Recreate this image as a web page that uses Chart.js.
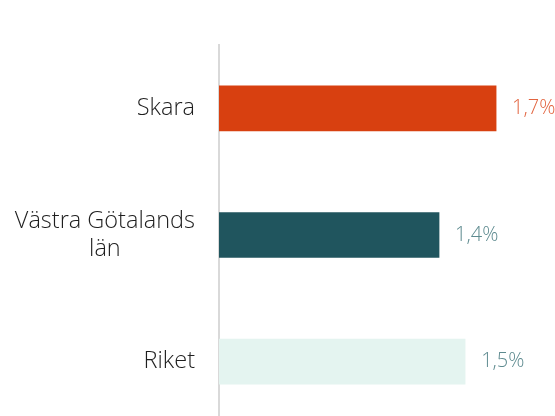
<!DOCTYPE html>
<html lang="sv">
<head>
<meta charset="utf-8">
<script src="https://cdn.jsdelivr.net/npm/chart.js@4.4.1/dist/chart.umd.min.js"></script>
<style>
  html, body { margin: 0; padding: 0; background: #fff; overflow: hidden; }
  #wrap { position: relative; width: 555px; height: 425px; }
</style>
</head>
<body>
<div id="wrap"><canvas id="barChart"></canvas></div>
<script>
// DATA
const categories = [["Skara"], ["Västra Götalands", "län"], ["Riket"]];
const values = [1.7, 1.35, 1.51];
const barColors = ["#d84010", "#20555e", "#e4f4f0"];
const labelColors = ["#e2643f", "#5d8a8f", "#5d8a8f"];

const FONT = "'Open Sans', 'Noto Sans', sans-serif";

// CATEGORY LABELS (right aligned block, lines centred inside it)
const categoryLabels = {
    id: "categoryLabels",
    afterDraw(chart) {
        const ctx = chart.ctx;
        const yScale = chart.scales.y;
        const rightEdge = 195;
        const lineHeight = 28;
        ctx.save();
        ctx.font = "300 23.5px " + FONT;
        ctx.fillStyle = "#1e1e1e";
        ctx.textBaseline = "middle";
        ctx.textAlign = "center";
        categories.forEach((lines, i) => {
            const yc = yScale.getPixelForValue(i);
            const widest = Math.max(...lines.map(l => ctx.measureText(l).width));
            const xc = rightEdge - widest / 2;
            const top = yc - (lines.length - 1) * lineHeight / 2;
            lines.forEach((l, j) => ctx.fillText(l, xc, top + j * lineHeight));
        });
        ctx.restore();
    }
};

// VALUE LABELS
const valueLabels = {
    id: "valueLabels",
    afterDatasetsDraw(chart) {
        const ctx = chart.ctx;
        const meta = chart.getDatasetMeta(0);
        ctx.save();
        ctx.font = "300 20px " + FONT;
        ctx.textBaseline = "middle";
        ctx.textAlign = "left";
        meta.data.forEach((bar, i) => {
            ctx.fillStyle = labelColors[i];
            const txt = values[i].toFixed(1).replace(".", ",") + "%";
            ctx.fillText(txt, bar.x + 16, bar.y);
        });
        ctx.restore();
    }
};

new Chart(document.getElementById("barChart"), {
    type: "bar",
    data: {
        labels: categories.map(c => c.join(" ")),
        datasets: [{
            data: values,
            backgroundColor: barColors,
            barThickness: 45,
            borderWidth: 0
        }]
    },
    options: {
        indexAxis: "y",
        responsive: true,
        maintainAspectRatio: false,
        animation: false,
        layout: { padding: { top: 45, right: 10, bottom: 0, left: 0 } },
        plugins: {
            legend: { display: false },
            tooltip: { enabled: false }
        },
        scales: {
            x: {
                display: false,
                min: 0,
                max: 2.0
            },
            y: {
                grid: { display: false },
                border: { display: true, color: "#d9d9d9", width: 2 },
                ticks: { display: false },
                afterFit(scale) { scale.width = 219; }
            }
        }
    },
    plugins: [categoryLabels, valueLabels]
});
</script>
</body>
</html>
